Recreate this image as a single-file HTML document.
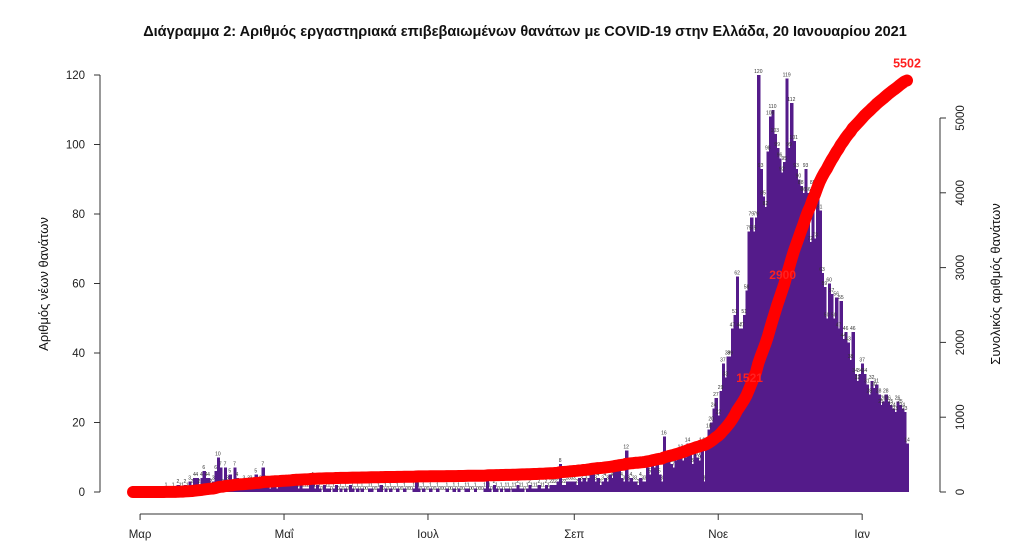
<!DOCTYPE html>
<html><head><meta charset="utf-8"><style>
html,body{margin:0;padding:0;background:#fff;}
svg{display:block;font-family:"Liberation Sans",sans-serif;}
</style></head><body>
<svg id="chart" width="1024" height="553" viewBox="0 0 1024 553">
<text x="525" y="36" text-anchor="middle" font-size="14.5" font-weight="bold" fill="#111">Διάγραμμα 2: Αριθμός εργαστηριακά επιβεβαιωμένων θανάτων με COVID-19 στην Ελλάδα, 20 Ιανουαρίου 2021</text>
<g id="bars" shape-rendering="crispEdges"></g>
<g id="barlabels"></g>
<g id="axes"></g>
<path id="cumline" fill="none" stroke="#ff0000" stroke-width="12" stroke-linecap="round" stroke-linejoin="round"></path>
<g id="cumlabels"></g>
<text transform="translate(48,284) rotate(-90)" text-anchor="middle" font-size="13" fill="#111">Αριθμός νέων θανάτων</text>
<text transform="translate(1000,284) rotate(-90)" text-anchor="middle" font-size="13" fill="#111">Συνολικός αριθμός θανάτων</text>
</svg>
<script>
const daily = [0,0,0,0,0,0,0,0,0,0,0,0,0,0,
1,0,0,1,0,2,1,1,2,1,3,2,4,4,2,4,6,4,4,2,
3,6,10,7,2,7,3,5,1,7,4,2,2,3,2,3,3,2,5,1,3,7,3,2,1,2,3,1,2,2,
2,2,2,3,3,3,1,2,1,1,1,3,4,1,2,1,0,2,1,1,0,1,2,0,1,0,1,0,2,1,0,
1,0,1,0,0,1,1,0,0,1,2,0,1,0,1,0,0,1,0,0,1,0,0,0,1,3,1,0,1,0,
0,1,0,0,1,0,0,0,1,0,0,1,0,1,0,0,1,1,0,0,1,0,0,0,1,4,1,0,2,1,0,
1,0,1,1,0,1,1,2,1,1,0,1,2,1,1,1,2,1,1,2,1,2,2,2,3,8,2,2,3,3,3,
3,2,4,3,4,3,4,5,6,3,4,2,3,4,3,5,4,6,6,6,4,3,12,3,4,3,3,2,4,3,
3,7,5,8,7,8,5,3,16,9,10,8,7,9,10,12,9,10,14,12,8,12,10,9,14,3,14,18,20,24,27,22,
29,37,33,39,39,47,51,62,47,47,51,58,75,79,75,79,120,93,85,82,98,108,110,103,99,96,92,95,119,99,
112,101,93,90,88,86,93,86,72,88,73,86,81,63,59,50,60,57,50,56,47,55,44,46,43,38,46,34,32,34,
37,34,31,28,32,30,31,28,25,26,28,26,25,24,23,26,25,24,23,14];
const leftTicks = [0,20,40,60,80,100,120];
const rightTicks = [0,1000,2000,3000,4000,5000];
const monthLabels = ["Μαρ","Μαΐ","Ιουλ","Σεπ","Νοε","Ιαν"];
const monthDays = [3,64,125,187,248,309];
const cumLabelDays = [263,277];

const NS="http://www.w3.org/2000/svg";
const x0=133, dx=(907-133)/(daily.length-1);
const xs=i=>x0+i*dx;
const yL=v=>492-v*(492-75)/120;
const yR=v=>492-v*(492-118)/5000;
function mk(tag,attrs,parent){const e=document.createElementNS(NS,tag);for(const k in attrs)e.setAttribute(k,attrs[k]);parent.appendChild(e);return e;}
const bars=document.getElementById('bars'),bl=document.getElementById('barlabels'),ax=document.getElementById('axes');
daily.forEach((v,i)=>{
  if(v>0){const r=mk('rect',{x:xs(i)-dx/2,y:yL(v),width:dx+0.9,height:492-yL(v),fill:'#541b8a'},bars);
  
  }
  const t=mk('text',{x:xs(i),y:yL(v)-2,'text-anchor':'middle','font-size':'5',fill:'#333'},bl);
  
  
  t.textContent=v;
});
mk('line',{x1:100,y1:yL(0),x2:100,y2:yL(120),stroke:'#333','stroke-width':1},ax);
leftTicks.forEach(v=>{
  mk('line',{x1:94,y1:yL(v),x2:100,y2:yL(v),stroke:'#333'},ax);
  const t=mk('text',{x:85,y:yL(v)+4,'text-anchor':'end','font-size':'11.5',fill:'#222'},ax);
  
  
  t.textContent=v;
});
mk('line',{x1:940,y1:yR(0),x2:940,y2:yR(5000),stroke:'#333'},ax);
rightTicks.forEach(v=>{
  mk('line',{x1:940,y1:yR(v),x2:946,y2:yR(v),stroke:'#333'},ax);
  const t=mk('text',{transform:`translate(964,${yR(v)}) rotate(-90)`,'text-anchor':'middle','font-size':'11.5',fill:'#222'},ax);
  
  
  t.textContent=v;
});
mk('line',{x1:xs(monthDays[0]),y1:514,x2:xs(monthDays[monthDays.length-1]),y2:514,stroke:'#333'},ax);
monthLabels.forEach((m,k)=>{
  const x=xs(monthDays[k]);
  mk('line',{x1:x,y1:514,x2:x,y2:520,stroke:'#333'},ax);
  const t=mk('text',{x:x,y:538,'text-anchor':'middle','font-size':'11.5',fill:'#222'},ax);
  
  
  t.textContent=m;
});
let c=0;const cum=daily.map(v=>(c+=v));
document.getElementById('cumline').setAttribute('d',cum.map((v,i)=>(i?'L':'M')+xs(i).toFixed(1)+','+yR(v).toFixed(1)).join(''));
const cl=document.getElementById('cumlabels');
cumLabelDays.forEach(i=>{
  const t=mk('text',{x:xs(i)-4,y:yR(cum[i])+4,'text-anchor':'middle','font-size':'12','font-weight':'bold',fill:'#ff2020'},cl);
  
  
  t.textContent=cum[i];
});
const last=daily.length-1;
const tl=mk('text',{x:xs(last),y:yR(cum[last])-13,'text-anchor':'middle','font-size':'12.5','font-weight':'bold',fill:'#ff2020'},cl);


tl.textContent=cum[last];
</script>
</body></html>
